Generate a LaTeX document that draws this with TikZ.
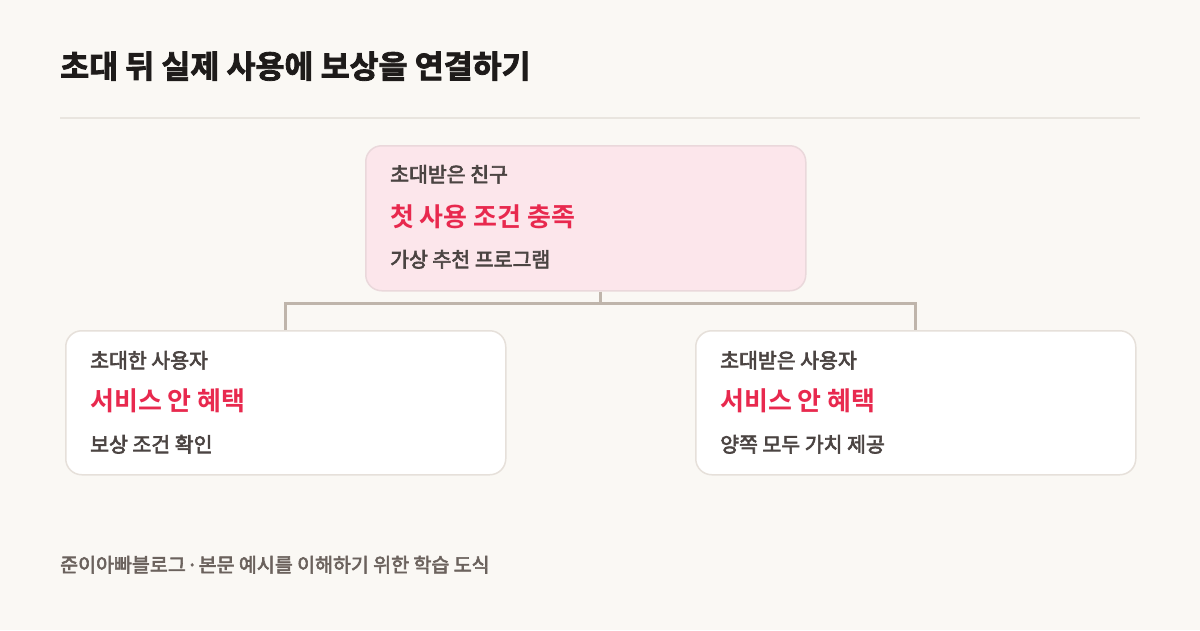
\documentclass[tikz,border=0pt]{standalone}
\usepackage{fontspec}
\setmainfont{Noto Sans CJK KR}
\newfontfamily\krb{Noto Sans CJK KR Bold}
\newfontfamily\krt{Noto Sans CJK KR Bold}[FakeBold=2.5]
\newfontfamily\krm{Noto Sans CJK KR}[FakeBold=3]
\definecolor{bgc}{HTML}{FAF8F4}
\definecolor{titlec}{HTML}{1E1B1A}
\definecolor{labc}{HTML}{4B4442}
\definecolor{redc}{HTML}{E8294E}
\definecolor{footc}{HTML}{6B625D}
\definecolor{pinkf}{HTML}{FCE6EB}
\definecolor{pinkd}{HTML}{EAD8DB}
\definecolor{boxd}{HTML}{E6E0DA}
\definecolor{connc}{HTML}{BFB5AB}
\definecolor{rulec}{HTML}{E9E5DF}
\tikzset{
  card/.style={draw=boxd, line width=1.5pt, fill=white, rounded corners=16pt,
    minimum width=440pt, minimum height=144pt, inner sep=0pt, anchor=north west},
  lbl/.style={anchor=base west, inner sep=0pt, text=labc, font=\krm\fontsize{20.5}{24}\selectfont},
  hl/.style={anchor=base west, inner sep=0pt, text=redc, font=\krb\fontsize{26}{30}\selectfont},
  conn/.style={draw=connc, line width=3pt, line join=miter}
}
\begin{document}
\begin{tikzpicture}[x=1pt,y=-1pt]
\fill[bgc] (0,0) rectangle (1200,630);
\useasboundingbox (0,0) rectangle (1200,630);
\node[anchor=base west, inner sep=0pt, text=titlec, font=\krt\fontsize{31.5}{36}\selectfont] (title) at (60,78) {초대 뒤 실제 사용에 보상을 연결하기};
\draw[rulec, line width=1.5pt] (60,118) coordinate (r1) -- (1140,118) coordinate (r2);
% boxes
\node[card, fill=pinkf, draw=pinkd, minimum height=145pt] (top) at (365,145) {};
\node[card] (left) at (65,330) {};
\node[card] (right) at (695,330) {};
% connectors
\coordinate (hub) at (600,303);
\draw[conn] (hub |- top.south) -- (hub);
\draw[conn] (left.north) |- (hub) -| (right.north);
% top texts
\node[lbl] (t1) at (390,182) {초대받은 친구};
\node[hl] (t2) at (390,226) {첫 사용 조건 충족};
\node[lbl] (t3) at (390,267) {가상 추천 프로그램};
% left texts
\node[lbl] (l1) at (90,368) {초대한 사용자};
\node[hl] (l2) at (90,410) {서비스 안 혜택};
\node[lbl] (l3) at (90,452) {보상 조건 확인};
% right texts
\node[lbl] (q1) at (720,368) {초대받은 사용자};
\node[hl] (q2) at (720,410) {서비스 안 혜택};
\node[lbl] (q3) at (720,452) {양쪽 모두 가치 제공};
% footer
\node[anchor=base west, inner sep=0pt, text=footc, font=\krm\fontsize{19.5}{23}\selectfont] (foot) at (60,572) {준이아빠블로그\hspace{1pt}·\hspace{1pt}본문 예시를 이해하기 위한 학습 도식};
\end{tikzpicture}
\end{document}
